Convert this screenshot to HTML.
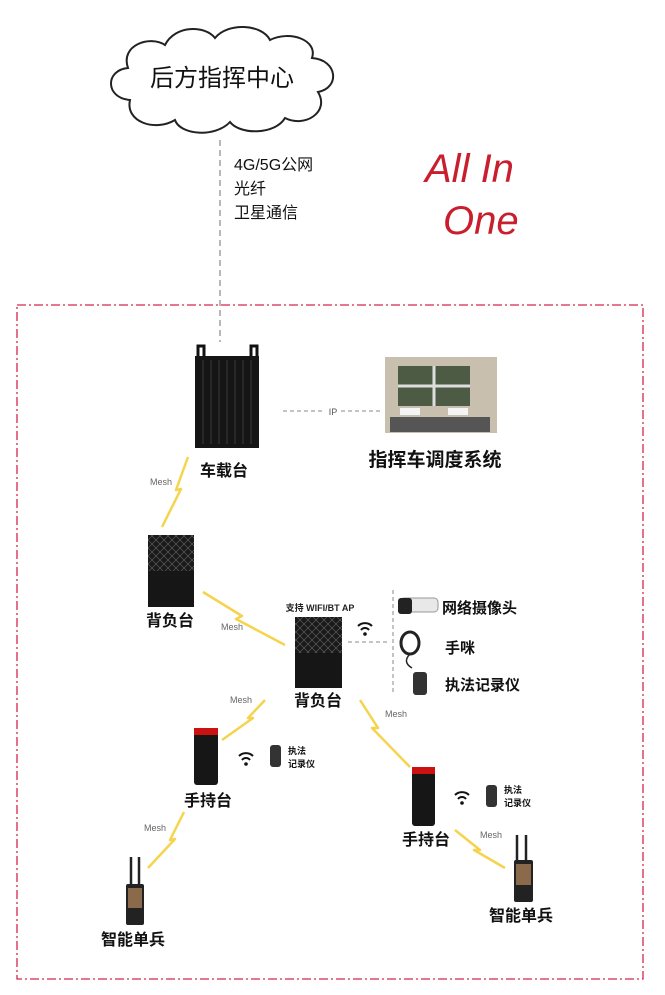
<!DOCTYPE html>
<html><head><meta charset="utf-8"><style>
html,body{margin:0;padding:0;background:#fff;}
svg{display:block;}
text{font-family:"Liberation Sans","Noto Sans CJK SC",sans-serif;}
.b{font-weight:bold;}
</style></head><body>
<svg width="665" height="995" viewBox="0 0 665 995" xmlns="http://www.w3.org/2000/svg">
<defs>
<pattern id="grid" width="8" height="8" patternUnits="userSpaceOnUse">
<rect width="8" height="8" fill="#1a1a1a"/><path d="M0 0L8 8M8 0L0 8" stroke="#666" stroke-width="0.6"/>
</pattern>
</defs>
<path d="M130,100 C105,98 105,70 128,68 C120,45 150,35 165,45 C175,25 205,25 215,38 C228,22 262,24 270,40 C290,30 318,40 312,58 C338,60 340,88 318,92 C330,112 305,128 285,118 C275,135 240,135 230,122 C215,138 180,135 175,120 C155,132 125,122 130,100 Z" fill="#fff" stroke="#222" stroke-width="2"/>
<text x="222" y="86" font-size="24" text-anchor="middle" fill="#111">后方指挥中心</text>
<line x1="220" y1="140" x2="220" y2="342" stroke="#888" stroke-width="1.2" stroke-dasharray="6,4"/>
<text x="234" y="170" font-size="16" fill="#111" font-family="Liberation Serif,Noto Serif CJK SC,serif">4G/5G公网</text>
<text x="234" y="194" font-size="16" fill="#111" font-family="Liberation Serif,Noto Serif CJK SC,serif">光纤</text>
<text x="234" y="218" font-size="16" fill="#111" font-family="Liberation Serif,Noto Serif CJK SC,serif">卫星通信</text>
<text x="425" y="182" font-size="40" fill="#c81e2e" font-style="italic" font-family="Liberation Serif,serif">All In</text>
<text x="443" y="234" font-size="40" fill="#c81e2e" font-style="italic" font-family="Liberation Serif,serif">One</text>
<rect x="17" y="305" width="626" height="674" fill="none" stroke="#d4274a" stroke-width="1.3" stroke-dasharray="9,3,2,3"/>
<rect x="198" y="346" width="6" height="12" fill="none" stroke="#111" stroke-width="3"/>
<rect x="251" y="346" width="6" height="12" fill="none" stroke="#111" stroke-width="3"/>
<rect x="195" y="356" width="64" height="92" fill="#151515"/>
<g stroke="#2e2e2e" stroke-width="1.5"><line x1="203" y1="360" x2="203" y2="444"/><line x1="211" y1="360" x2="211" y2="444"/><line x1="219" y1="360" x2="219" y2="444"/><line x1="227" y1="360" x2="227" y2="444"/><line x1="235" y1="360" x2="235" y2="444"/><line x1="243" y1="360" x2="243" y2="444"/><line x1="251" y1="360" x2="251" y2="444"/></g>
<text x="224" y="476" font-size="16" class="b" text-anchor="middle" fill="#111">车载台</text>
<line x1="283" y1="411" x2="325" y2="411" stroke="#888" stroke-dasharray="4,3"/>
<line x1="341" y1="411" x2="382" y2="411" stroke="#888" stroke-dasharray="4,3"/>
<text x="333" y="415" font-size="9" text-anchor="middle" fill="#555">IP</text>
<rect x="385" y="357" width="112" height="76" fill="#c9bfae"/>
<rect x="398" y="366" width="72" height="40" fill="#4d5b45"/>
<line x1="434" y1="366" x2="434" y2="406" stroke="#ddd" stroke-width="3"/>
<line x1="398" y1="386" x2="470" y2="386" stroke="#ddd" stroke-width="3"/>
<rect x="400" y="408" width="20" height="7" fill="#f4f4f4"/><rect x="448" y="408" width="20" height="7" fill="#f4f4f4"/>
<rect x="390" y="417" width="100" height="15" fill="#555"/>
<text x="435" y="466" font-size="19" class="b" text-anchor="middle" fill="#111">指挥车调度系统</text>
<g stroke="#f5cf3a" stroke-width="2.5" fill="none" stroke-linejoin="round" opacity="0.9">
<polyline points="188,457 176,490 181,489 162,527"/>
<polyline points="203,592 242,616 236,619 285,645"/>
<polyline points="265,700 248,718 253,718 222,740"/>
<polyline points="360,700 378,728 372,728 410,767"/>
<polyline points="184,812 170,840 175,839 148,868"/>
<polyline points="455,830 480,850 474,850 505,868"/>
</g>
<g font-size="9" fill="#666">
<text x="150" y="485">Mesh</text>
<text x="221" y="630">Mesh</text>
<text x="230" y="703">Mesh</text>
<text x="385" y="717">Mesh</text>
<text x="144" y="831">Mesh</text>
<text x="480" y="838">Mesh</text>
</g>
<rect x="148" y="535" width="46" height="36" fill="url(#grid)"/>
<rect x="148" y="571" width="46" height="36" fill="#161616"/>
<text x="170" y="626" font-size="16" class="b" text-anchor="middle" fill="#111">背负台</text>
<rect x="295" y="617" width="47" height="36" fill="url(#grid)"/>
<rect x="295" y="653" width="47" height="35" fill="#161616"/>
<text x="318" y="706" font-size="16" class="b" text-anchor="middle" fill="#111">背负台</text>
<text x="320" y="611" font-size="9" class="b" text-anchor="middle" fill="#222">支持 WIFI/BT AP</text>
<g fill="none" stroke="#111" stroke-width="2">
<path d="M358,626 a10,10 0 0 1 14,0"/><path d="M361,630 a5,5 0 0 1 8,0"/>
<path d="M239,756 a10,10 0 0 1 14,0"/><path d="M242,760 a5,5 0 0 1 8,0"/>
<path d="M455,795 a10,10 0 0 1 14,0"/><path d="M458,799 a5,5 0 0 1 8,0"/>
</g>
<circle cx="365" cy="634" r="1.8" fill="#111"/><circle cx="246" cy="764" r="1.8" fill="#111"/><circle cx="462" cy="803" r="1.8" fill="#111"/>
<line x1="348" y1="642" x2="388" y2="642" stroke="#888" stroke-dasharray="4,3"/>
<line x1="393" y1="590" x2="393" y2="695" stroke="#888" stroke-dasharray="4,3"/>
<rect x="400" y="598" width="38" height="14" rx="4" fill="#e8e8e8" stroke="#999"/>
<rect x="398" y="598" width="14" height="16" rx="3" fill="#222"/>
<text x="442" y="613" font-size="15" class="b" fill="#111">网络摄像头</text>
<ellipse cx="410" cy="643" rx="9" ry="11" fill="none" stroke="#222" stroke-width="3"/>
<path d="M410,654 q-8,8 2,14" fill="none" stroke="#222" stroke-width="1.5"/>
<text x="445" y="653" font-size="15" class="b" fill="#111">手咪</text>
<rect x="413" y="672" width="14" height="23" rx="3" fill="#333"/>
<text x="445" y="690" font-size="15" class="b" fill="#111">执法记录仪</text>
<rect x="194" y="728" width="24" height="57" rx="3" fill="#161616"/>
<rect x="194" y="728" width="24" height="7" fill="#c11"/>
<text x="208" y="806" font-size="16" class="b" text-anchor="middle" fill="#111">手持台</text>
<rect x="270" y="745" width="11" height="22" rx="3" fill="#333"/>
<text x="288" y="754" font-size="9" class="b" fill="#111">执法</text>
<text x="288" y="767" font-size="9" class="b" fill="#111">记录仪</text>
<rect x="412" y="767" width="23" height="59" rx="3" fill="#161616"/>
<rect x="412" y="767" width="23" height="7" fill="#c11"/>
<text x="426" y="845" font-size="16" class="b" text-anchor="middle" fill="#111">手持台</text>
<rect x="486" y="785" width="11" height="22" rx="3" fill="#333"/>
<text x="504" y="793" font-size="9" class="b" fill="#111">执法</text>
<text x="504" y="806" font-size="9" class="b" fill="#111">记录仪</text>
<line x1="131" y1="857" x2="131" y2="886" stroke="#222" stroke-width="2.5"/><line x1="139" y1="857" x2="139" y2="886" stroke="#222" stroke-width="2.5"/>
<rect x="126" y="884" width="18" height="41" rx="2" fill="#222"/>
<rect x="128" y="888" width="14" height="20" fill="#8a6a4a"/>
<text x="133" y="945" font-size="16" class="b" text-anchor="middle" fill="#111">智能单兵</text>
<line x1="517" y1="835" x2="517" y2="862" stroke="#222" stroke-width="2.5"/><line x1="526" y1="835" x2="526" y2="862" stroke="#222" stroke-width="2.5"/>
<rect x="514" y="860" width="19" height="42" rx="2" fill="#222"/>
<rect x="516" y="864" width="15" height="21" fill="#8a6a4a"/>
<text x="521" y="921" font-size="16" class="b" text-anchor="middle" fill="#111">智能单兵</text>
</svg>
</body></html>
